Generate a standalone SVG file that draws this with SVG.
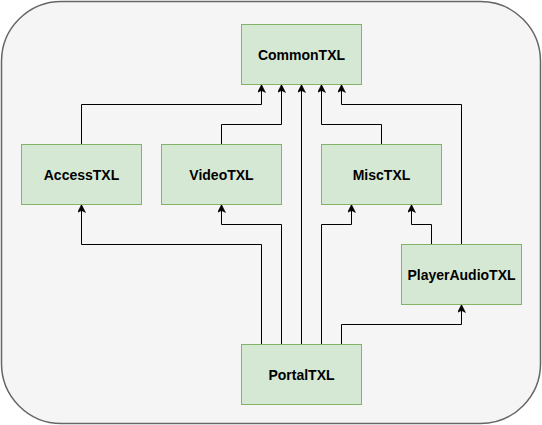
<svg xmlns="http://www.w3.org/2000/svg" width="542" height="425" viewBox="0 0 542 425">
<style>
.bg{fill:#f5f5f5;stroke:#666666;stroke-width:1.5}
.node rect{fill:#d5e8d4;stroke:#82b366;stroke-width:1}
.node text{font-family:"Liberation Sans",Arial,Helvetica,sans-serif;font-size:14px;font-weight:bold;fill:#000;text-anchor:middle}
.edge{fill:none;stroke:#000;stroke-width:1;marker-end:url(#arr)}
</style>
<defs>
<marker id="arr" viewBox="0 0 8 8" refX="8" refY="4" markerWidth="8" markerHeight="8" markerUnits="userSpaceOnUse" orient="auto">
<path d="M8 4 L0 0 L2 4 L0 8 Z" fill="#000" stroke="#000" stroke-width="0.5"/>
</marker>
</defs>
<rect class="bg" x="1.5" y="1.5" width="539" height="422" rx="60" ry="60"/>
<g id="connectors">
<path class="edge" d="M81.5 144.5 V104.5 H261.5 V84.5"/>
<path class="edge" d="M221.5 144.5 V124.5 H281.5 V84.5"/>
<path class="edge" d="M301.5 344.5 V84.5"/>
<path class="edge" d="M381.5 144.5 V124.5 H321.5 V84.5"/>
<path class="edge" d="M461.5 244.5 V104.5 H341.5 V84.5"/>
<path class="edge" d="M261.5 344.5 V244.5 H81.5 V204.5"/>
<path class="edge" d="M281.5 344.5 V224.5 H221.5 V204.5"/>
<path class="edge" d="M321.5 344.5 V224.5 H351.5 V204.5"/>
<path class="edge" d="M431.5 244.5 V224.5 H411.5 V204.5"/>
<path class="edge" d="M341.5 344.5 V324.5 H461.5 V304.5"/>
</g>
<g id="CommonTXL" class="node"><rect x="241.5" y="24.5" width="120" height="60"/><text x="301.5" y="59.5">CommonTXL</text></g>
<g id="AccessTXL" class="node"><rect x="21.5" y="144.5" width="120" height="60"/><text x="81.5" y="179.5">AccessTXL</text></g>
<g id="VideoTXL" class="node"><rect x="161.5" y="144.5" width="120" height="60"/><text x="221.5" y="179.5">VideoTXL</text></g>
<g id="MiscTXL" class="node"><rect x="321.5" y="144.5" width="120" height="60"/><text x="381.5" y="179.5">MiscTXL</text></g>
<g id="PlayerAudioTXL" class="node"><rect x="401.5" y="244.5" width="120" height="60"/><text x="461.5" y="279.5">PlayerAudioTXL</text></g>
<g id="PortalTXL" class="node"><rect x="241.5" y="344.5" width="120" height="60"/><text x="301.5" y="379.5">PortalTXL</text></g>
</svg>
